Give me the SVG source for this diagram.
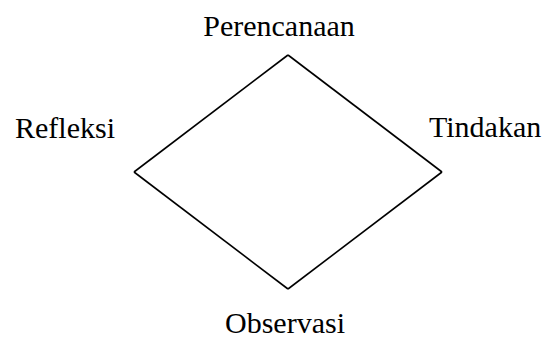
<svg xmlns="http://www.w3.org/2000/svg" width="549" height="339" viewBox="0 0 549 339">
<style>
.edge{stroke:#000;stroke-width:1.6;fill:none;stroke-linejoin:miter}
</style>
<rect width="549" height="339" fill="#fff"/>
<g id="connectors">
<path class="edge" d="M288,55 L442,172"/>
<path class="edge" d="M442,172 L288,289"/>
<path class="edge" d="M288,289 L134,172"/>
<path class="edge" d="M134,172 L288,55"/>
</g>
<g font-family="'Liberation Serif', 'DejaVu Serif', serif" font-size="30" fill="#000">
<g id="perencanaan"><text x="279" y="36" text-anchor="middle">Perencanaan</text></g>
<g id="tindakan"><text x="429" y="137">Tindakan</text></g>
<g id="observasi"><text x="285" y="333" text-anchor="middle">Observasi</text></g>
<g id="refleksi"><text x="15" y="138">Refleksi</text></g>
</g>
</svg>
